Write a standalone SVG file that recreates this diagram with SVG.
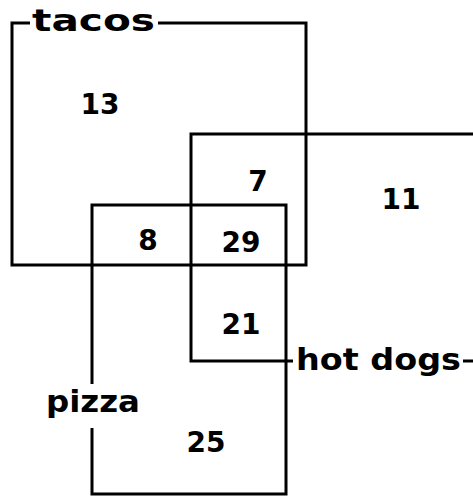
<svg xmlns="http://www.w3.org/2000/svg" width="473" height="496" viewBox="0 0 473 496">
<style>
.r{fill:none;stroke:#000;stroke-width:3}
.n{font-family:"DejaVu Sans",sans-serif;font-weight:bold;font-size:28px;text-anchor:middle;fill:#000}
.l{font-family:"DejaVu Sans",sans-serif;font-weight:bold;font-size:30px;fill:#000}
</style>
<rect width="473" height="496" fill="#fff"/>
<g id="connectors">
</g>
<g id="tacos">
<path class="r" d="M30 23 H12 V265 H306 V23 H158"/>
<text class="l" x="32" y="31" textLength="123" lengthAdjust="spacingAndGlyphs">tacos</text>
</g>
<g id="hotdogs">
<path class="r" d="M473 134 H191 V361 H293 M463 361 H473"/>
<text class="l" x="296" y="370" textLength="165" lengthAdjust="spacingAndGlyphs">hot dogs</text>
</g>
<g id="pizza">
<path class="r" d="M92 384 V205 H286 V494 H92 V428"/>
<text class="l" x="46" y="412" textLength="94" lengthAdjust="spacingAndGlyphs">pizza</text>
</g>
<g id="regions">
<text class="n" x="100" y="114">13</text>
<text class="n" x="258" y="191">7</text>
<text class="n" x="401" y="209">11</text>
<text class="n" x="148" y="250">8</text>
<text class="n" x="241" y="252">29</text>
<text class="n" x="241" y="334">21</text>
<text class="n" x="206" y="452">25</text>
</g>
</svg>
